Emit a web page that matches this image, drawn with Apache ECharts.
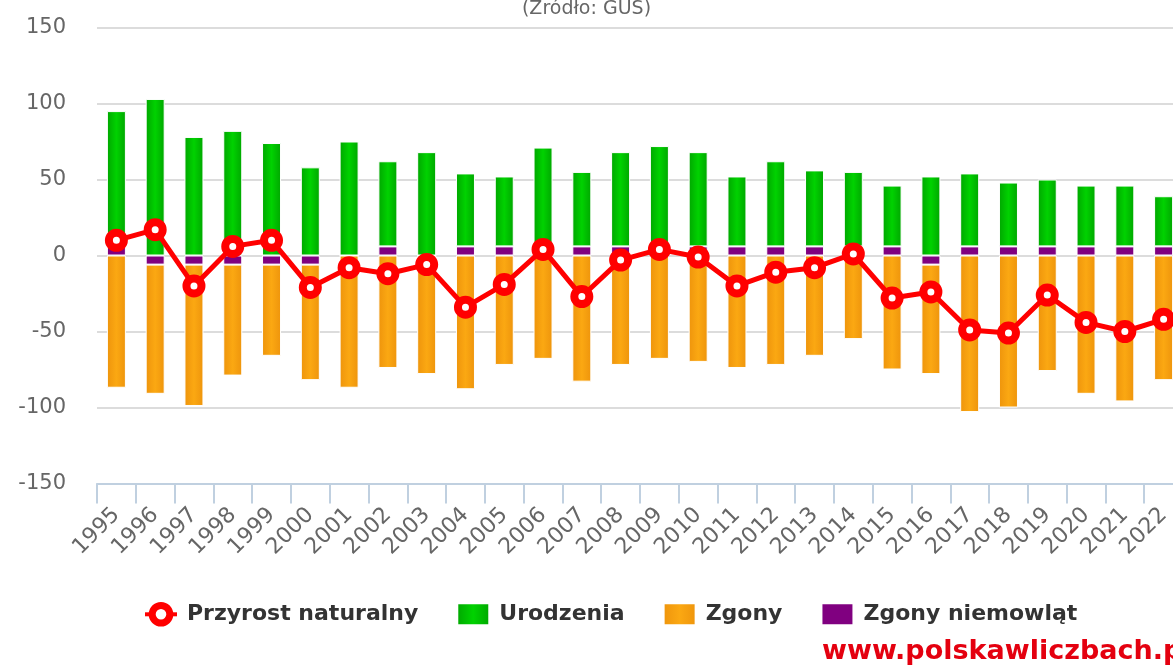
<!DOCTYPE html>
<html>
<head>
<meta charset="utf-8">
<title>Przyrost naturalny</title>
<script src="https://cdn.jsdelivr.net/npm/echarts@6.0.0/dist/echarts.min.js"></script>
<style>
  html, body { margin: 0; padding: 0; background: #fff; }
  #chart { width: 1173px; height: 666px; }
</style>
</head>
<body>
<div id="chart"></div>
<script>
// values
const years = ['1995', '1996', '1997', '1998', '1999', '2000', '2001', '2002', '2003', '2004',
  '2005', '2006', '2007', '2008', '2009', '2010', '2011', '2012', '2013', '2014',
  '2015', '2016', '2017', '2018', '2019', '2020', '2021', '2022'];

// Przyrost naturalny (line)
const przyrost = [10, 17, -20, 6, 10, -21, -8, -12, -6, -34,
  -19, 4, -27, -3, 4, -1, -20, -11, -8, 1,
  -28, -24, -49, -51, -26, -44, -50, -42];

// Urodzenia (green, stacked on top of the infant deaths when those are drawn above zero)
const urodzenia = [89, 103, 78, 82, 74, 58, 75, 56, 68, 48,
  46, 65, 49, 62, 66, 62, 46, 56, 50, 49,
  40, 52, 48, 42, 44, 40, 40, 33];

// Zgony (orange)
const zgony = [-87, -85, -93, -73, -60, -76, -87, -74, -78, -88,
  -72, -68, -83, -72, -68, -70, -74, -72, -66, -55,
  -75, -72, -103, -100, -76, -91, -96, -82];

// Zgony niemowląt (purple)
const zgonyNiemowlat = [6, -6, -6, -6, -6, -6, 0, 6, 0, 6,
  6, 6, 6, 6, 6, 6, 6, 6, 6, 6,
  6, -6, 6, 6, 6, 6, 6, 6];

const yTicks = {min: -150, max: 150, interval: 50};

const axisFont = 'DejaVu Sans';

function barGradient(edge, mid) {
  return {
    type: 'linear', x: 0, y: 0, x2: 1, y2: 0,
    colorStops: [
      {offset: 0, color: edge},
      {offset: 0.5, color: mid},
      {offset: 1, color: edge},
    ],
  };
}

const chart = echarts.init(document.getElementById('chart'), null, {renderer: 'canvas'});

const option = {
  animation: false,
  backgroundColor: '#fff',
  title: {
    text: '(Źródło: GUS)',
    left: 'center',
    top: -5,
    textStyle: {fontFamily: axisFont, fontSize: 19, fontWeight: 'normal', color: '#666'},
  },
  legend: {
    data: [
      {
        name: 'Przyrost naturalny',
        itemStyle: {color: '#fff', borderColor: '#f00', borderWidth: 7},
        lineStyle: {color: '#f00', width: 4},
      },
      {name: 'Urodzenia', icon: 'rect'},
      {name: 'Zgony', icon: 'rect'},
      {name: 'Zgony niemowląt', icon: 'rect'},
    ],
    left: 138,
    top: 597,
    itemWidth: 32,
    itemHeight: 22,
    itemGap: 38,
    textStyle: {
      fontFamily: axisFont, fontSize: 22, fontWeight: 'bold', color: '#333',
      padding: [0, 0, 0, 5],
    },
  },
  grid: {
    left: 97,
    top: 27.5,
    width: 1086,
    height: 456,
    containLabel: false,
    outerBoundsMode: 'none',
  },
  xAxis: {
    type: 'category',
    data: years,
    axisLine: {onZero: false, lineStyle: {color: '#c0d0e0', width: 2}},
    axisTick: {show: true, length: 20, lineStyle: {color: '#c0d0e0', width: 2}},
    axisLabel: {
      rotate: 45,
      margin: 28,
      interval: 0,
      fontFamily: axisFont,
      fontSize: 22,
      color: '#666',
    },
    splitLine: {show: false},
  },
  yAxis: {
    type: 'value',
    min: yTicks.min,
    max: yTicks.max,
    interval: yTicks.interval,
    axisLine: {show: false},
    axisTick: {show: false},
    axisLabel: {margin: 31, fontFamily: axisFont, fontSize: 21, color: '#666'},
    splitLine: {lineStyle: {color: '#dcdcdc', width: 2}},
  },
  series: [
    {
      name: 'Zgony niemowląt',
      type: 'bar',
      stack: 'razem',
      barWidth: 19,
      data: zgonyNiemowlat,
      itemStyle: {color: '#800080', borderColor: '#fff', borderWidth: 1},
    },
    {
      name: 'Urodzenia',
      type: 'bar',
      stack: 'razem',
      barWidth: 19,
      data: urodzenia,
      itemStyle: {color: barGradient('#00a600', '#00d200'), borderColor: '#fff', borderWidth: 1},
    },
    {
      name: 'Zgony',
      type: 'bar',
      stack: 'razem',
      barWidth: 19,
      data: zgony,
      itemStyle: {color: barGradient('#ee940c', '#fba812'), borderColor: '#fff', borderWidth: 1},
    },
    {
      name: 'Przyrost naturalny',
      type: 'line',
      z: 5,
      data: przyrost,
      symbol: 'circle',
      symbolSize: 15,
      lineStyle: {color: '#f00', width: 5},
      itemStyle: {color: '#fff', borderColor: '#f00', borderWidth: 8},
    },
  ],
  graphic: [
    {
      type: 'text',
      left: 822,
      top: 638,
      style: {
        text: 'www.polskawliczbach.pl',
        fill: '#e4000f',
        font: 'bold 27px "DejaVu Sans"',
      },
    },
  ],
};

chart.setOption(option);
</script>
</body>
</html>
